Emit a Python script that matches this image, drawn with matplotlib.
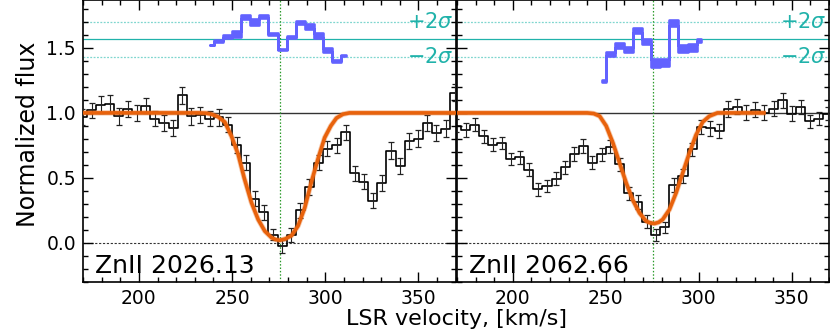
import matplotlib
matplotlib.use("Agg")
import matplotlib.pyplot as plt
from matplotlib.ticker import MultipleLocator

# velocity bin centres (km/s), shared by both transitions
VEL = [169.7, 174.6, 179.5, 184.3, 189.2, 194.1, 198.9, 203.8, 208.6, 213.5,
       218.4, 223.3, 228.2, 233.0, 237.9, 242.8, 247.7, 252.5, 257.4, 262.3,
       267.1, 272.0, 276.9, 281.7, 286.6, 291.5, 296.4, 301.2, 306.1, 311.0,
       315.8, 320.7, 325.6, 330.4, 335.3, 340.2, 345.1, 349.9, 354.8, 359.7,
       364.6, 369.4]

FLUX_2026 = [0.97, 1.02, 1.064, 1.07, 0.974, 1.03, 1.00, 1.056, 0.954, 0.923,
             0.885, 1.136, 0.974, 0.987, 0.954, 0.967, 0.91, 0.756, 0.615, 0.338,
             0.236, 0.064, -0.026, 0.058, 0.25, 0.43, 0.615, 0.725, 0.752, 0.851,
             0.535, 0.472, 0.324, 0.461, 0.71, 0.592, 0.784, 0.80, 0.922, 0.846,
             0.878, 1.154]
ERR_2026 = [0.06, 0.058, 0.067, 0.064, 0.064, 0.064, 0.064, 0.06, 0.058, 0.06,
            0.062, 0.064, 0.064, 0.062, 0.058, 0.064, 0.059, 0.062, 0.058, 0.058,
            0.058, 0.045, 0.049, 0.055, 0.055, 0.058, 0.058, 0.059, 0.058, 0.058,
            0.058, 0.058, 0.058, 0.059, 0.064, 0.064, 0.065, 0.065, 0.064, 0.064,
            0.067, 0.065]

FLUX_2062 = [0.90, 0.87, 0.91, 0.82, 0.756, 0.77, 0.646, 0.657, 0.564, 0.412,
             0.436, 0.495, 0.58, 0.684, 0.746, 0.617, 0.68, 0.741, 0.605, 0.382,
             0.315, 0.163, 0.06, 0.12, 0.445, 0.514, 0.719, 0.892, 0.88, 0.86,
             1.03, 1.046, 1.00, 1.026, 1.00, 1.033, 1.097, 0.995, 1.046, 0.936,
             0.956, 0.995]
ERR_2062 = [0.05, 0.055, 0.051, 0.051, 0.048, 0.048, 0.048, 0.051, 0.051, 0.048,
            0.046, 0.048, 0.048, 0.051, 0.051, 0.051, 0.051, 0.051, 0.051, 0.051,
            0.051, 0.049, 0.045, 0.044, 0.051, 0.051, 0.051, 0.051, 0.058, 0.056,
            0.06, 0.058, 0.058, 0.056, 0.058, 0.058, 0.058, 0.058, 0.055, 0.051,
            0.051, 0.051]

# fitted line profiles
FIT_V_2026 = [160, 232, 236, 239, 242.5, 246.1, 249.7, 253.3, 256.5, 260.4,
              264.0, 267.6, 271.2, 273.5, 275.6, 278.5, 281.9, 285.4, 289.0,
              292.6, 296.2, 299.7, 303.0, 306.0, 309.5, 313.0, 380]
FIT_F_2026 = [1.0, 1.0, 0.998, 0.99, 0.97, 0.93, 0.82, 0.68, 0.50, 0.31,
              0.18, 0.09, 0.04, 0.025, 0.02, 0.03, 0.056, 0.13, 0.27,
              0.47, 0.65, 0.81, 0.90, 0.96, 0.99, 1.0, 1.0]
FIT_V_2062 = [160, 240, 243.5, 246.7, 250.2, 253.8, 257.4, 261.0, 264.5, 268.1,
              271.7, 274.0, 276.2, 278.4, 280.6, 284.2, 287.8, 291.4, 294.9,
              298.5, 302.1, 305.7, 310.0, 336.0]
FIT_F_2062 = [1.0, 1.0, 0.995, 0.975, 0.90, 0.77, 0.615, 0.46, 0.33, 0.23,
              0.167, 0.153, 0.149, 0.158, 0.18, 0.256, 0.385, 0.54, 0.69,
              0.83, 0.93, 0.975, 1.0, 1.0]

# offset residual bands (centre, half width)
RES_V_2026 = VEL[14:30]
RES_2026 = [1.52, 1.551, 1.589, 1.607, 1.738, 1.697, 1.743, 1.605, 1.487, 1.585,
            1.697, 1.662, 1.595, 1.482, 1.397, 1.441]
RES_W_2026 = [0.0, 0.008, 0.011, 0.02, 0.016, 0.022, 0.011, 0.006, 0.006, 0.007,
              0.01, 0.019, 0.016, 0.016, 0.008, 0.002]
RES_V_2062 = VEL[16:28]
RES_2062 = [1.243, 1.456, 1.515, 1.487, 1.633, 1.548, 1.385, 1.389, 1.692, 1.497,
            1.505, 1.558]
RES_W_2062 = [0.008, 0.016, 0.019, 0.021, 0.02, 0.02, 0.029, 0.029, 0.025, 0.027,
              0.026, 0.01]

V_SYS = 275.6
RES_ZERO, RES_HI, RES_LO = 1.569, 1.70, 1.432
PANELS = [
    ("ZnII 2026.13", FLUX_2026, ERR_2026, FIT_V_2026, FIT_F_2026,
     RES_V_2026, RES_2026, RES_W_2026),
    ("ZnII 2062.66", FLUX_2062, ERR_2062, FIT_V_2062, FIT_F_2062,
     RES_V_2062, RES_2062, RES_W_2062),
]

C_FIT = "#e8620c"
C_RES = "#6262ff"
C_SIG = "#20b2aa"

fig = plt.figure(figsize=(8.3, 3.32), dpi=100)
axes = [fig.add_axes([0.1, 0.151, 0.449, 0.848]),
        fig.add_axes([0.5506, 0.151, 0.4482, 0.848])]

for i, (ax, panel) in enumerate(zip(axes, PANELS)):
    name, flux, err, fv, ff, rv, rc, rw = panel
    ax.axhline(1.0, color="#333333", lw=1.0, zorder=1)
    ax.axhline(0.0, color="#333333", lw=0.8, ls=(0, (2, 1.5)), zorder=1)
    ax.axhline(RES_ZERO, color=C_SIG, lw=0.9, zorder=1)
    for yv in (RES_HI, RES_LO):
        ax.axhline(yv, color="#7fd6cf", lw=0.9, ls=(0, (1.5, 1.2)), zorder=1)
    ax.axvline(V_SYS, color="#2a9a2a", lw=0.9, ls=(0, (1.2, 1.5)), zorder=1)

    ax.step(VEL, flux, where="mid", color="k", lw=1.2, zorder=3)
    ax.errorbar(VEL, flux, yerr=err, fmt="none", ecolor="#222222",
                elinewidth=0.8, capsize=2.3, capthick=0.9, zorder=3)

    ax.plot(fv, ff, color=C_FIT, lw=3.8, alpha=0.35, zorder=4,
            solid_capstyle="butt")
    ax.plot(fv, ff, color=C_FIT, lw=2.6, zorder=5, solid_capstyle="butt")

    lo = [c - w for c, w in zip(rc, rw)]
    hi = [c + w for c, w in zip(rc, rw)]
    ax.fill_between(rv, lo, hi, step="mid", facecolor=C_RES,
                    edgecolor=C_RES, lw=1.9, zorder=4)

    ax.text(0.993, RES_HI, r"$+2\sigma$", color=C_SIG, fontsize=15,
            ha="right", va="center", transform=ax.get_yaxis_transform())
    ax.text(0.993, RES_LO, r"$-2\sigma$", color=C_SIG, fontsize=15,
            ha="right", va="center", transform=ax.get_yaxis_transform())
    ax.text(0.032, 0.032, name, fontsize=18, transform=ax.transAxes,
            ha="left", va="baseline")

    ax.set_xlim(170, 370)
    ax.set_ylim(-0.3, 1.866)
    ax.xaxis.set_major_locator(MultipleLocator(50))
    ax.xaxis.set_minor_locator(MultipleLocator(10))
    ax.yaxis.set_major_locator(MultipleLocator(0.5))
    ax.yaxis.set_minor_locator(MultipleLocator(0.1))
    ax.tick_params(which="both", direction="in", top=True, right=True,
                   labelsize=13.5, width=1.0)
    ax.tick_params(which="major", length=7, pad=5)
    ax.tick_params(which="minor", length=3.5)
    if i == 1:
        ax.tick_params(labelleft=False)
    for sp in ax.spines.values():
        sp.set_linewidth(1.2)

fig.text(0.55, 0.021, "LSR velocity, [km/s]", fontsize=16,
         ha="center", va="baseline")
fig.text(0.034, 0.595, "Normalized flux", fontsize=17, rotation=90,
         ha="center", va="center")

fig.savefig("out.png", dpi=100)
